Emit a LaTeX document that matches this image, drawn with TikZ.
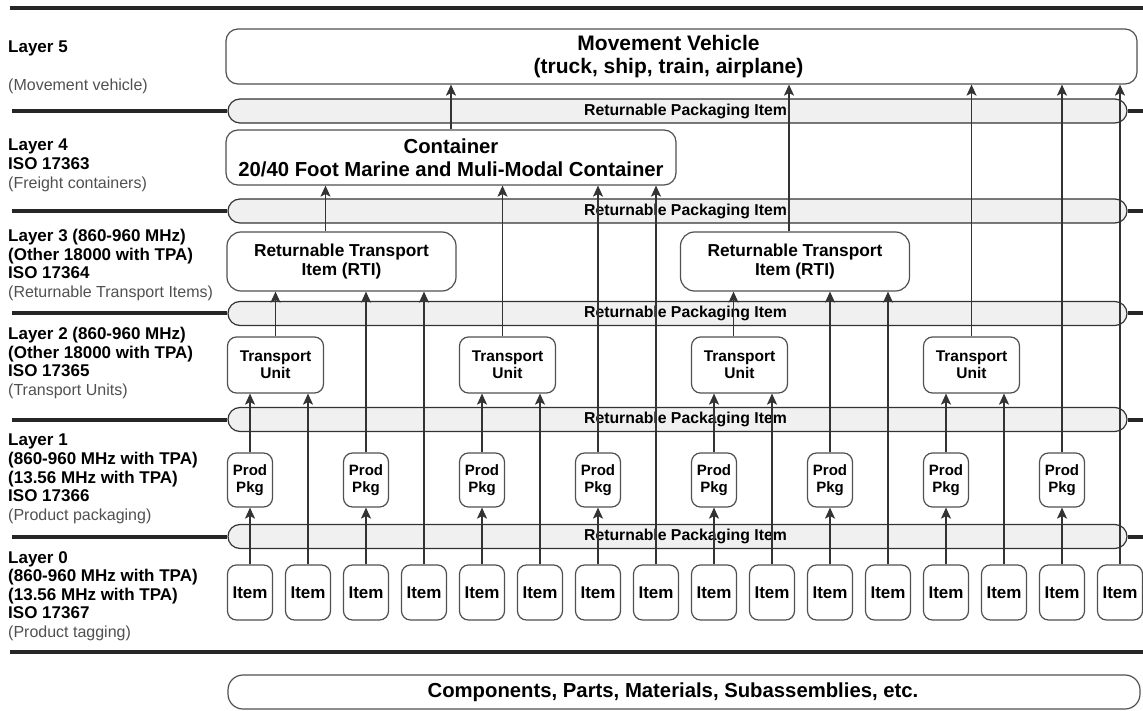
\documentclass[tikz,border=0pt]{standalone}
\usepackage{fontspec}
\setmainfont{Liberation Sans}
\usepackage{tikz}
\usetikzlibrary{arrows.meta}
\definecolor{boxline}{HTML}{505050}
\definecolor{bandfill}{HTML}{F0F0F0}
\definecolor{desc}{HTML}{505050}
\newcommand{\descr}[1]{\textcolor{desc}{\fontsize{16}{18.6}\selectfont #1}}

\begin{document}
\begin{tikzpicture}[>={Stealth[length=11pt,width=10pt,inset=2.5pt]}, x=1pt, y=-1pt]
    \tikzstyle{box}=[rectangle,draw=boxline,line width=1.2pt,rounded corners=9pt,align=center,inner sep=0pt]
    \tikzstyle{band}=[box,draw=black!80,fill=bandfill,rounded corners=12pt,minimum width=899pt,minimum height=24pt,font=\fontsize{15.8}{17}\selectfont\bfseries]
    \tikzstyle{rule}=[line width=4pt,black!85]
    \tikzstyle{layer}=[anchor=north west,inner sep=0pt,align=left,font=\fontsize{17}{18.6}\selectfont]
    \tikzstyle{link}=[->,line width=1.1pt,black!80]
    \useasboundingbox (0,0) rectangle (1143,711);
    \draw[rule] (10,8) -- (1143,8);
    \draw[rule] (10,652) -- (1143,652);
    \foreach \y [count=\i] in {111,211,313.5,419.5,536.5} {
      \node[band] (ret\i) at (677.5,\y) {\hspace*{16pt}Returnable Packaging Item};
      \draw[rule] (12,\y) -- (ret\i.west);
      \draw[rule] (ret\i.east) -- (1143,\y);
    }
    \node[box,minimum width=911pt,minimum height=55pt,rounded corners=12pt,font=\fontsize{21}{23}\selectfont\bfseries] (vehicle) at (681.5,56.5) {Movement Vehicle\hspace*{26pt}\\(truck, ship, train, airplane)\hspace*{26pt}};
    \node[box,minimum width=450pt,minimum height=55pt,rounded corners=12pt,font=\fontsize{20.3}{23}\selectfont\bfseries] (container) at (451,157.5) {Container\\20/40 Foot Marine and Muli-Modal Container};
    \node[box,minimum width=229pt,minimum height=59pt,rounded corners=14pt,font=\fontsize{17.3}{19}\selectfont\bfseries] (rti1) at (341.5,261.5) {Returnable Transport\\Item (RTI)};
    \node[box,minimum width=229pt,minimum height=59pt,rounded corners=14pt,font=\fontsize{17.3}{19}\selectfont\bfseries] (rti2) at (795,261.5) {Returnable Transport\\Item (RTI)};
    \foreach \x [count=\i] in {275.5,507.5,739.5,971.5}
      \node[box,minimum width=96pt,minimum height=56pt,font=\fontsize{15.5}{17}\selectfont\bfseries] (unit\i) at (\x,365) {Transport\\Unit};
    \foreach \i in {1,...,8}
      \node[box,minimum width=45pt,minimum height=54pt,font=\fontsize{15}{17}\selectfont\bfseries] (pkg\i) at ({250+116*(\i-1)},480) {Prod\\Pkg};
    \foreach \i in {1,...,16}
      \node[box,minimum width=45pt,minimum height=55pt,font=\fontsize{17}{19}\selectfont\bfseries] (item\i) at ({250+58*(\i-1)},592.5) {Item};
    \node[box,minimum width=912pt,minimum height=34pt,rounded corners=15pt,font=\fontsize{20.3}{22}\selectfont\bfseries] (parts) at (684,692) {Components, Parts, Materials, Subassemblies, etc.\hspace*{22pt}};
    \foreach \t [count=\i] in {unit1,rti1,unit2,container,unit3,rti2,unit4,vehicle} {
      \pgfmathtruncatemacro\j{2*\i}
      \pgfmathtruncatemacro\k{2*\i-1}
      \draw[link] (item\k) -- (pkg\i);
      \draw[link] (pkg\i.north) -- (pkg\i.north |- \t.south);
      \draw[link] (item\j.north) -- (item\j.north |- \t.south);
    }
    \foreach \s/\t/\d in {unit1/rti1/0,unit2/container/-5,unit3/rti2/-6,unit4/vehicle/0,rti1/container/-16,rti2/vehicle/-6,container/vehicle/0}
      \draw[link] ([xshift=\d]\s.north) -- ([xshift=\d]\s.north |- \t.south);
    \node[layer] (lab5) at (8,41) {\textbf{Layer 5}\\[18.6pt]\descr{(Movement vehicle)}};
    \node[layer] (lab4) at (8,139) {\textbf{Layer 4}\\\textbf{ISO 17363}\\\descr{(Freight containers)}};
    \node[layer] (lab3) at (8,229) {\textbf{Layer 3 (860-960 MHz)}\\\textbf{(Other 18000 with TPA)}\\\textbf{ISO 17364}\\\descr{(Returnable Transport Items)}};
    \node[layer] (lab2) at (8,327) {\textbf{Layer 2 (860-960 MHz)}\\\textbf{(Other 18000 with TPA)}\\\textbf{ISO 17365}\\\descr{(Transport Units)}};
    \node[layer] (lab1) at (8,434) {\textbf{Layer 1}\\\textbf{(860-960 MHz with TPA)}\\\textbf{(13.56 MHz with TPA)}\\\textbf{ISO 17366}\\\descr{(Product packaging)}};
    \node[layer] (lab0) at (8,551) {\textbf{Layer 0}\\\textbf{(860-960 MHz with TPA)}\\\textbf{(13.56 MHz with TPA)}\\\textbf{ISO 17367}\\\descr{(Product tagging)}};
\end{tikzpicture}
\end{document}
